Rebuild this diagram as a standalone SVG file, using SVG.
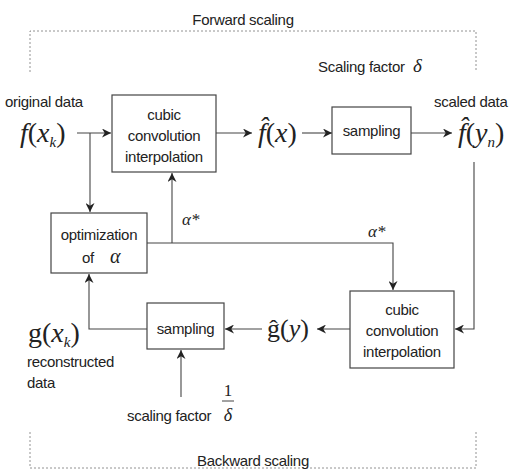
<svg xmlns="http://www.w3.org/2000/svg" width="512" height="470" viewBox="0 0 512 470">
<defs>
<marker id="ah" viewBox="0 0 10 10" refX="10" refY="5" markerWidth="9" markerHeight="9" markerUnits="userSpaceOnUse" orient="auto">
<path d="M0,0 L10,5 L0,10 L3,5 Z" fill="#222"/>
</marker>
<style>
.lbl{font-family:"Liberation Sans",Arial,sans-serif;font-size:15px;fill:#222;letter-spacing:-0.3px}
.c{text-anchor:middle}
.m{font-family:"Liberation Serif","Times New Roman",serif;font-size:28px;fill:#222}
.i{font-style:italic}
.sub{font-size:15px;font-style:italic}
.box{fill:#fff;stroke:#444;stroke-width:1.2}
.ln{fill:none;stroke:#444;stroke-width:1.1}
.dash{fill:none;stroke:#777;stroke-width:0.8;stroke-dasharray:2,2}
</style>
</defs>
<rect width="512" height="470" fill="#fff"/>

<g id="frames">
<path class="dash" d="M30,72 V31 H476 V72"/>
<path class="dash" d="M30,432 V468 H476 V432"/>
<text class="lbl c" x="243" y="25">Forward scaling</text>
<text class="lbl c" x="253" y="466">Backward scaling</text>
</g>

<g id="connectors">
<path class="ln" d="M77,133 H111" marker-end="url(#ah)"/>
<path class="ln" d="M90,133 V212" marker-end="url(#ah)"/>
<path class="ln" d="M216,133 H252" marker-end="url(#ah)"/>
<path class="ln" d="M302,133 H332" marker-end="url(#ah)"/>
<path class="ln" d="M411,133 H452" marker-end="url(#ah)"/>
<path class="ln" d="M474,162 V329 H455" marker-end="url(#ah)"/>
<path class="ln" d="M350,329 H317" marker-end="url(#ah)"/>
<path class="ln" d="M262,329 H225" marker-end="url(#ah)"/>
<path class="ln" d="M147,329 H89 V274" marker-end="url(#ah)"/>
<path class="ln" d="M147,243 H393 V290" marker-end="url(#ah)"/>
<path class="ln" d="M172,243 V173" marker-end="url(#ah)"/>
<path class="ln" d="M181,397 V350" marker-end="url(#ah)"/>
</g>

<g id="interp1">
<rect class="box" x="112" y="95" width="104" height="77"/>
<text class="lbl c" x="164" y="120">cubic</text>
<text class="lbl c" x="164" y="141">convolution</text>
<text class="lbl c" x="164" y="162">interpolation</text>
</g>

<g id="sampling1">
<rect class="box" x="332" y="107" width="79" height="47"/>
<text class="lbl c" x="371.5" y="136">sampling</text>
</g>

<g id="optimization">
<rect class="box" x="51" y="213" width="96" height="60"/>
<text class="lbl c" x="99" y="240">optimization</text>
<text class="lbl" x="82" y="263">of</text>
<text class="m i" x="110" y="263" style="font-size:20px">α</text>
</g>

<g id="interp2">
<rect class="box" x="350" y="291" width="104" height="77"/>
<text class="lbl c" x="402" y="315">cubic</text>
<text class="lbl c" x="402" y="336">convolution</text>
<text class="lbl c" x="402" y="357">interpolation</text>
</g>

<g id="sampling2">
<rect class="box" x="147" y="303" width="77" height="46"/>
<text class="lbl c" x="185.5" y="334">sampling</text>
</g>

<g id="labels">
<text class="lbl" x="5" y="107">original data</text>
<text class="m" x="20" y="142"><tspan class="i">f</tspan>(<tspan class="i">x</tspan><tspan class="sub" dy="5">k</tspan><tspan dy="-5">)</tspan></text>

<text class="m" x="258" y="142"><tspan class="i">f̂</tspan>(<tspan class="i">x</tspan>)</text>

<text class="lbl" x="434" y="107">scaled data</text>
<text class="m" x="458" y="142"><tspan class="i">f̂</tspan>(<tspan class="i">y</tspan><tspan class="sub" dy="5">n</tspan><tspan dy="-5">)</tspan></text>

<text class="lbl" x="318" y="72">Scaling factor</text>
<text class="m i" x="413" y="72" style="font-size:19px">δ</text>

<text class="m i" x="182" y="225" style="font-size:17px">α*</text>
<text class="m i" x="368" y="237" style="font-size:17px">α*</text>

<text class="m" x="267" y="337" style="font-size:26px">ĝ(<tspan class="i">y</tspan>)</text>

<text class="m" x="28" y="342">g(<tspan class="i">x</tspan><tspan class="sub" dy="5">k</tspan><tspan dy="-5">)</tspan></text>
<text class="lbl" x="27" y="367">reconstructed</text>
<text class="lbl" x="27" y="388">data</text>

<text class="lbl" x="127" y="421">scaling factor</text>
<text class="m c" x="228" y="396" style="font-size:17px">1</text>
<line x1="222" y1="401" x2="234" y2="401" stroke="#444" stroke-width="1"/>
<text class="m i c" x="228" y="421" style="font-size:18px">δ</text>
</g>
</svg>
